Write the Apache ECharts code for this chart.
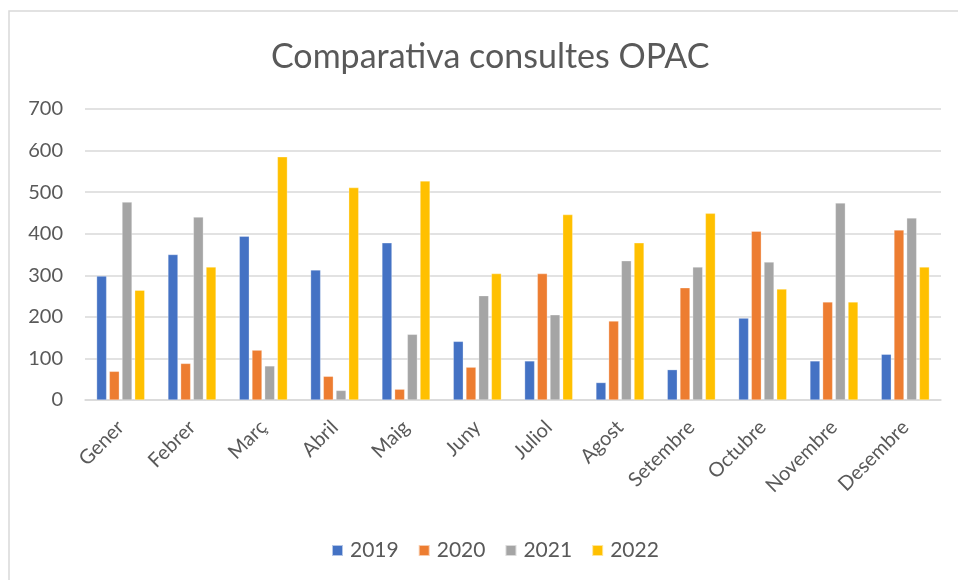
<!DOCTYPE html>
<html>
<head>
    <meta charset="utf-8">
    <title>Comparativa consultes OPAC</title>
    <script src="https://cdn.jsdelivr.net/npm/echarts@6/dist/echarts.min.js"></script>
    <style>
        html, body { margin: 0; padding: 0; background: #fff; }
    </style>
</head>
<body>
    <div id="main" style="width: 958px;height:580px;"></div>
    <script type="text/javascript">
        // dades
        var mesos = ['Gener', 'Febrer', 'Març', 'Abril', 'Maig', 'Juny', 'Juliol', 'Agost', 'Setembre', 'Octubre', 'Novembre', 'Desembre'];
        var anys = ['2019', '2020', '2021', '2022'];
        var d2019 = [298, 350, 394, 313, 378, 141, 94, 42, 73, 197, 94, 110];
        var d2020 = [69, 88, 120, 57, 26, 79, 304, 190, 270, 406, 236, 409];
        var d2021 = [476, 440, 82, 23, 158, 251, 205, 335, 320, 332, 474, 438];
        var d2022 = [264, 320, 585, 511, 527, 304, 446, 378, 449, 267, 236, 320];
        var colors = ['#4472C4', '#ED7D31', '#A5A5A5', '#FFC000'];

        var valors = [d2019, d2020, d2021, d2022];
        var font = 'Lato, "Open Sans", sans-serif';

        var myChart = echarts.init(document.getElementById('main'));
        var series = anys.map(function (any, i) {
            return {
                name: any,
                type: 'bar',
                data: valors[i],
                barWidth: 10,
                barGap: '27%',
                itemStyle: { color: colors[i], borderColor: 'rgba(255,255,255,0.6)', borderWidth: 0.5 }
            };
        });

        myChart.setOption({
            animation: false,
            color: colors,
            title: {
                text: 'Comparativa consultes OPAC',
                left: 266,
                top: 35,
                textStyle: { fontFamily: font, fontSize: 34, fontWeight: 'normal', color: '#595959' }
            },
            graphic: [{
                type: 'rect',
                shape: { x: 9, y: 11, width: 980, height: 600 },
                style: { fill: 'none', stroke: '#d9d9d9', lineWidth: 1.5 },
                silent: true
            }],
            legend: {
                data: anys,
                top: 535,
                left: 326,
                itemWidth: 11,
                itemHeight: 11,
                itemGap: 19,
                icon: 'rect',
                textStyle: { fontFamily: font, fontSize: 21, color: '#595959', padding: [0, 0, 0, 2] }
            },
            grid: { left: 85, right: 17, top: 109, bottom: 180 },
            xAxis: {
                type: 'category',
                data: mesos,
                axisLine: { lineStyle: { color: '#d9d9d9', width: 1.5 } },
                axisTick: { show: false },
                axisLabel: { rotate: 45, fontFamily: font, fontSize: 20, color: '#595959', margin: 24, interval: 0 }
            },
            yAxis: {
                type: 'value',
                min: 0,
                max: 700,
                interval: 100,
                axisLine: { show: false },
                axisTick: { show: false },
                splitLine: { lineStyle: { color: '#d9d9d9', width: 1.5 } },
                axisLabel: { fontFamily: font, fontSize: 20, color: '#595959', margin: 22 }
            },
            series: series
        });
    </script>
</body>
</html>
